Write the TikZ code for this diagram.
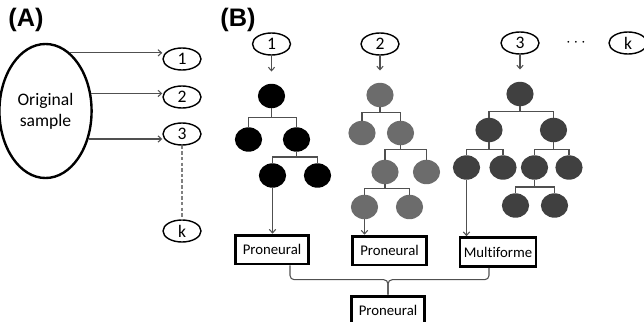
\documentclass[tikz,border=0pt]{standalone}
\usepackage{fontspec}
\setmainfont{Carlito}[Ligatures=NoCommon]
\newfontfamily\panelfont{Liberation Sans}
\usepackage{tikz}
\usetikzlibrary{arrows.meta,positioning,shapes.geometric}
\definecolor{lngray}{RGB}{80,80,80}
\definecolor{midgray}{RGB}{108,108,108}
\definecolor{darkgray}{RGB}{64,64,64}

\tikzset{
    sample/.style={draw, ellipse, line width=1pt, minimum width=0.95cm,
        minimum height=0.55cm, inner sep=0pt, font=\fontsize{12.5}{14}\selectfont},
    leaf/.style={ellipse, minimum width=0.68cm, minimum height=0.61cm, inner sep=0pt},
    classbox/.style={draw, line width=2pt, fill=white, minimum width=1.84cm,
        minimum height=0.72cm, inner sep=0pt, font=\fontsize{10.5}{12}\selectfont},
    treeline/.style={lngray, line width=0.75pt},
    panel/.style={font=\panelfont\bfseries\fontsize{18}{20}\selectfont}
}

\begin{document}
\begin{tikzpicture}[
    x=0.025cm,
    y=-0.025cm,
    >={Straight Barb[length=2.5pt,width=4.5pt]}
]
\useasboundingbox (0,0) rectangle (644,322);

% Panel labels
\node[panel] (lblA) at (26,20) {(A)};
\node[panel] (lblB) at (238,20) {(B)};

% (A) resampling
\node[
    draw,
    ellipse,
    line width=1.7pt,
    minimum width=1.9cm,
    minimum height=3.35cm,
    align=center,
    font=\fontsize{12.5}{15}\selectfont
] (orig)
at (45.5,111)
{Original\\sample};

\node[sample] (a1) at (182,59) {1};
\node[sample] (a2) at (182,97) {2};
\node[sample] (a3) at (182,134) {3};
\node[sample] (ak) at (182,231) {k};

\draw[->, treeline] (orig.67) -- (orig.67 -| a1.west);
\draw[->, treeline] (orig.21) -- (orig.21 -| a2.west);
\draw[->, treeline] (orig.-33) -- (orig.-33 -| a3.west);
\draw[treeline, gray, dash pattern=on 2.5pt off 1.5pt] (a3) -- (ak);

% (B) bootstrap samples
\node[sample] (b1) at (271.5,44) {1};
\node[sample] (b2) at (380,44) {2};
\node[sample] (b3) at (520,43) {3};
\node[font=\fontsize{12}{14}\selectfont] (dots) at (576,43) {$\cdots$};
\node[sample] (bk) at (628,43) {k};

% Tree 1
\node[leaf, fill=black] (t1r) at (271.5,96) {};
\node[leaf, fill=black] (t1a) at (248.5,139.5) {};
\node[leaf, fill=black] (t1b) at (296.5,139.5) {};
\node[leaf, fill=black] (t1c) at (272.5,175.5) {};
\node[leaf, fill=black] (t1d) at (317.5,175.5) {};

% Tree 2
\node[leaf, fill=midgray] (t2r) at (380,95) {};
\node[leaf, fill=midgray] (t2a) at (362,133) {};
\node[leaf, fill=midgray] (t2b) at (400.5,133) {};
\node[leaf, fill=midgray] (t2c) at (385,172) {};
\node[leaf, fill=midgray] (t2d) at (426.5,172) {};
\node[leaf, fill=midgray] (t2e) at (364.5,207) {};
\node[leaf, fill=midgray] (t2f) at (409.5,207) {};

% Tree 3
\node[leaf, fill=darkgray] (t3r) at (520,94) {};
\node[leaf, fill=darkgray] (t3a) at (489,130) {};
\node[leaf, fill=darkgray] (t3b) at (553.5,130) {};
\node[leaf, fill=darkgray] (t3c) at (466.5,167.5) {};
\node[leaf, fill=darkgray] (t3d) at (503,167.5) {};
\node[leaf, fill=darkgray] (t3e) at (534.5,167.5) {};
\node[leaf, fill=darkgray] (t3f) at (569,167.5) {};
\node[leaf, fill=darkgray] (t3g) at (515.5,205.5) {};
\node[leaf, fill=darkgray] (t3h) at (554.5,205.5) {};

% Samples into trees
\draw[->, treeline, shorten >=0.3cm] (b1) -- (t1r);
\draw[->, treeline, shorten >=0.3cm] (b2) -- (t2r);
\draw[->, treeline, shorten >=0.3cm] (b3) -- (t3r);

% Splits
\draw[treeline] (t1r.south) -- ++(0,9) coordinate (j) -| (t1a.north) (j) -| (t1b.north);
\draw[treeline] (t1b.south) -- ++(0,5) coordinate (j) -| (t1c.north) (j) -| (t1d.north);

\draw[treeline] (t2r.south) -- ++(0,5) coordinate (j) -| (t2a.north) (j) -| (t2b.north);
\draw[treeline] (t2b.south) -- ++(0,4) coordinate (j) -| (t2c.north) (j) -| (t2d.north);
\draw[treeline] (t2c.south) -- ++(0,4) coordinate (j) -| (t2e.north) (j) -| (t2f.north);

\draw[treeline] (t3r.south) -- ++(0,5) coordinate (j) -| (t3a.north) (j) -| (t3b.north);
\draw[treeline] (t3a.south) -- ++(0,7) coordinate (j) -| (t3c.north) (j) -| (t3d.north);
\draw[treeline] (t3b.south) -- ++(0,7) coordinate (j) -| (t3e.north) (j) -| (t3f.north);
\draw[treeline] (t3e.south) -- ++(0,7) coordinate (j) -| (t3g.north) (j) -| (t3h.north);

% Class boxes
\node[classbox] (p1) at (272,249.5) {Proneural};
\node[classbox] (p2) at (389.5,250.5) {Proneural};
\node[classbox, minimum width=1.9cm] (pm) at (498,252) {Multiforme};
\node[classbox] (pf) at (388,310.5) {Proneural};

\draw[->, treeline] (t1c) -- (t1c.south |- p1.north);
\draw[->, treeline] (t2e) -- (t2e.south |- p2.north);
\draw[->, treeline] (t3c) -- (t3c.south |- pm.north);

% Vote
\coordinate (jn) at ([yshift=0.375cm]pf.north);
\draw[treeline, rounded corners=3pt] ([xshift=0.45cm]p1.south) |- (jn) -- (pf.north);
\draw[treeline, rounded corners=3pt] ([xshift=-0.225cm]pm.south) |- (jn) -- (pf.north);
\end{tikzpicture}
\end{document}
